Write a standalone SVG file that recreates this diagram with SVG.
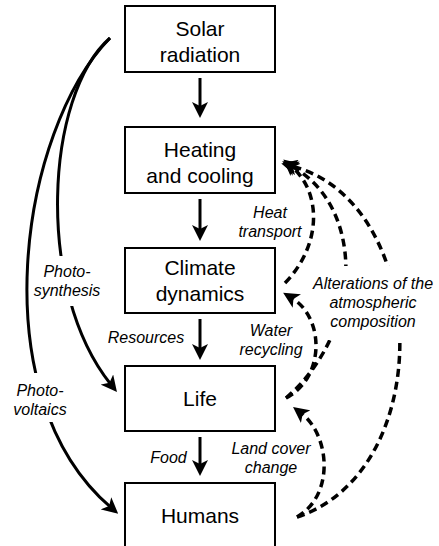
<svg xmlns="http://www.w3.org/2000/svg" width="439" height="546" viewBox="0 0 439 546">
<style>
.box{fill:#fff;stroke:#000;stroke-width:2}
.nt{font-family:"Liberation Sans",Arial,sans-serif;font-size:21px;fill:#000;text-anchor:middle}
.lt{font-family:"Liberation Sans",Arial,sans-serif;font-size:16px;font-style:italic;fill:#000;text-anchor:middle}
.solid{fill:none;stroke:#000;stroke-width:3}
.dash{fill:none;stroke:#000;stroke-width:3.5;stroke-dasharray:8 5}
.bg{fill:#fff;stroke:none}
</style>
<defs>
<marker id="ah" markerWidth="16" markerHeight="16" viewBox="0 -8 16 16" refX="6" refY="0" orient="auto" markerUnits="userSpaceOnUse"><path d="M16,0 L0,-8 L4,0 L0,8 Z" fill="#000"/></marker>
</defs>
<g id="connectors">
<path class="solid" d="M200,78 L200,108" marker-end="url(#ah)"/>
<path class="solid" d="M200,199 L200,231" marker-end="url(#ah)"/>
<path class="solid" d="M200,319 L200,350" marker-end="url(#ah)"/>
<path class="solid" d="M200,437 L200,466" marker-end="url(#ah)"/>
<path class="solid" d="M110,38 C20,130 -20,395 110.6,507.2" marker-end="url(#ah)"/>
<path class="solid" d="M110,38 C45,95 35,290 110.7,384.2" marker-end="url(#ah)"/>
<path class="dash" d="M285,283 C322,245 322,192 291,166" marker-end="url(#ah)"/>
<path class="dash" d="M286,398 C365,330 365,205 291,166" marker-end="url(#ah)"/>
<path class="dash" d="M297,517 C440,470 430,200 291,166" marker-end="url(#ah)"/>
<path class="dash" d="M286,398 C325,378 325,318 291.7,297.9" marker-end="url(#ah)"/>
<path class="dash" d="M297,517 C335,495 330,435 301,413" marker-end="url(#ah)"/>
</g>
<g id="labels">
<path class="bg" d="M31,256 H104 V306 H31 Z M10,373 H70 V422 H10 Z M306,266 H437 V291 H306 Z M320,291 H425 V340 H320 Z"/>
<text class="lt" x="270" y="218">Heat</text>
<text class="lt" x="270" y="237">transport</text>
<text class="lt" x="271" y="336">Water</text>
<text class="lt" x="271" y="355">recycling</text>
<text class="lt" x="146" y="343">Resources</text>
<text class="lt" x="168.5" y="463">Food</text>
<text class="lt" x="67" y="277">Photo-</text>
<text class="lt" x="67" y="296">synthesis</text>
<text class="lt" x="40" y="396">Photo-</text>
<text class="lt" x="40" y="415">voltaics</text>
<text class="lt" x="271" y="454">Land cover</text>
<text class="lt" x="271" y="473">change</text>
<text class="lt" x="373" y="289">Alterations of the</text>
<text class="lt" x="373" y="308">atmospheric</text>
<text class="lt" x="373" y="327">composition</text>
</g>
<g id="solar">
<rect class="box" x="125" y="6" width="150" height="66"/>
<text class="nt" x="200" y="36">Solar</text>
<text class="nt" x="200" y="62">radiation</text>
</g>
<g id="heating">
<rect class="box" x="125" y="127" width="150" height="66"/>
<text class="nt" x="200" y="157">Heating</text>
<text class="nt" x="200" y="183">and cooling</text>
</g>
<g id="climate">
<rect class="box" x="125" y="248" width="150" height="65"/>
<text class="nt" x="200" y="275">Climate</text>
<text class="nt" x="200" y="301">dynamics</text>
</g>
<g id="life">
<rect class="box" x="125" y="366" width="150" height="65"/>
<text class="nt" x="200" y="406">Life</text>
</g>
<g id="humans">
<rect class="box" x="125" y="483" width="150" height="70"/>
<text class="nt" x="200" y="523">Humans</text>
</g>
</svg>
